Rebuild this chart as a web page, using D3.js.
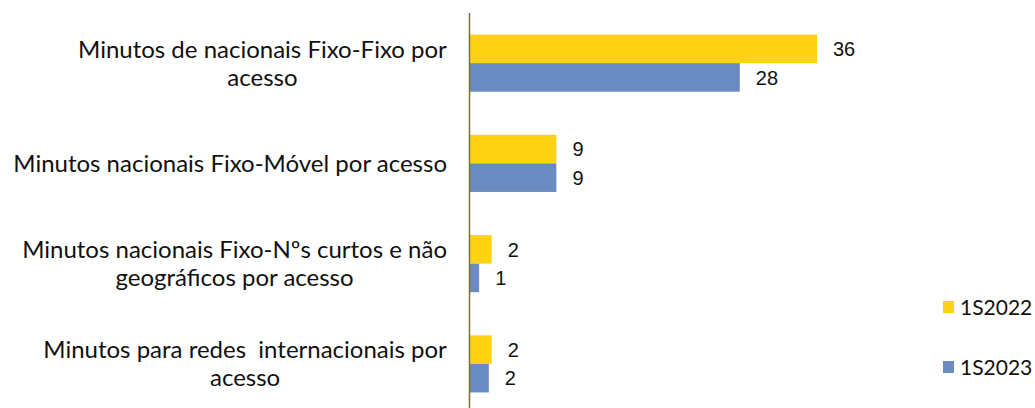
<!DOCTYPE html>
<html>
<head>
<meta charset="utf-8">
<script src="https://d3js.org/d3.v7.min.js"></script>
<style>
  body { margin: 0; background: #fff; }
  svg { display: block; }
</style>
</head>
<body>
<svg width="1035" height="408"></svg>
<script>

// categories (one entry per text line)
var categories = [
  ["Minutos de nacionais Fixo-Fixo por", "acesso"],
  ["Minutos nacionais Fixo-Móvel por acesso"],
  ["Minutos nacionais Fixo-Nºs curtos e não", "geográficos por acesso"],
  ["Minutos para redes  internacionais por", "acesso"]
];
var series = ["1S2022", "1S2023"];
var values2022 = [36, 9, 2.3, 2.3];
var values2023 = [28, 9, 1.0, 2.0];
var colors = ["#ffd314", "#6a8ac2"];

var svg = d3.select("svg");
var axisX = 469.5,
    labelRight = 447;

var catKeys = categories.map(function(d, i) { return i; });

var y = d3.scaleBand()
    .domain(catKeys)
    .range([13, 414])
    .paddingInner(0.43)
    .paddingOuter(0.215);

var ySub = d3.scaleBand()
    .domain(series)
    .range([0, y.bandwidth()]);

var x = d3.scaleLinear()
    .domain([0, 36])
    .range([axisX, 817]);

var format = d3.format(".0f");

var rows = catKeys.map(function(i) {
  return { cat: i, vals: [values2022[i], values2023[i]] };
});

var group = svg.selectAll("g.cat")
  .data(rows)
  .enter().append("g")
    .attr("class", "cat")
    .attr("transform", function(d) { return "translate(0," + y(d.cat) + ")"; });

group.selectAll("rect")
  .data(function(d) { return d.vals.map(function(v, j) { return { s: series[j], v: v, j: j }; }); })
  .enter().append("rect")
    .attr("x", x(0))
    .attr("y", function(d) { return ySub(d.s); })
    .attr("width", function(d) { return x(d.v) - x(0); })
    .attr("height", ySub.bandwidth())
    .attr("fill", function(d) { return colors[d.j]; });

group.selectAll("text.val")
  .data(function(d) { return d.vals.map(function(v, j) { return { s: series[j], v: v }; }); })
  .enter().append("text")
    .attr("class", "val")
    .attr("x", function(d) { return x(d.v) + 16; })
    .attr("y", function(d) { return ySub(d.s) + ySub.bandwidth() / 2; })
    .attr("dy", "0.36em")
    .style("font-family", "'Liberation Sans', Arial, sans-serif")
    .style("font-size", "20px")
    .style("fill", "#111")
    .text(function(d) { return format(d.v); });

// category labels, centred block ending at labelRight
var lineH = 28;
svg.selectAll("text.cat")
  .data(rows)
  .enter().append("text")
    .attr("class", "cat")
    .style("font-family", "Lato, sans-serif")
    .style("font-size", "24px")
    .style("white-space", "pre")
    .style("fill", "#111")
    .attr("text-anchor", "middle")
    .each(function(d) {
      var t = d3.select(this);
      var lines = categories[d.cat];
      var cy = y(d.cat) + y.bandwidth() / 2;
      lines.forEach(function(l, k) {
        t.append("tspan")
          .attr("x", 0)
          .attr("y", cy + (k - (lines.length - 1) / 2) * lineH)
          .attr("dy", "0.35em")
          .text(l);
      });
      var w = this.getBBox().width;
      t.selectAll("tspan").attr("x", labelRight - w / 2);
    });

// vertical axis line
svg.append("line")
    .attr("x1", axisX).attr("x2", axisX)
    .attr("y1", 13).attr("y2", 408)
    .attr("stroke", "#7a7433")
    .attr("stroke-width", 1.5);

// legend
var legend = svg.selectAll("g.legend")
  .data(series)
  .enter().append("g")
    .attr("class", "legend")
    .attr("transform", function(d, i) { return "translate(943," + (307 + i * 60) + ")"; });

legend.append("rect")
    .attr("x", 0).attr("y", -6)
    .attr("width", 11).attr("height", 12)
    .attr("fill", function(d, i) { return colors[i]; });

legend.append("text")
    .attr("x", 17)
    .attr("dy", "0.36em")
    .style("font-family", "Lato, sans-serif")
    .style("font-size", "21px")
    .style("fill", "#111")
    .text(function(d) { return d; });

</script>
</body>
</html>
